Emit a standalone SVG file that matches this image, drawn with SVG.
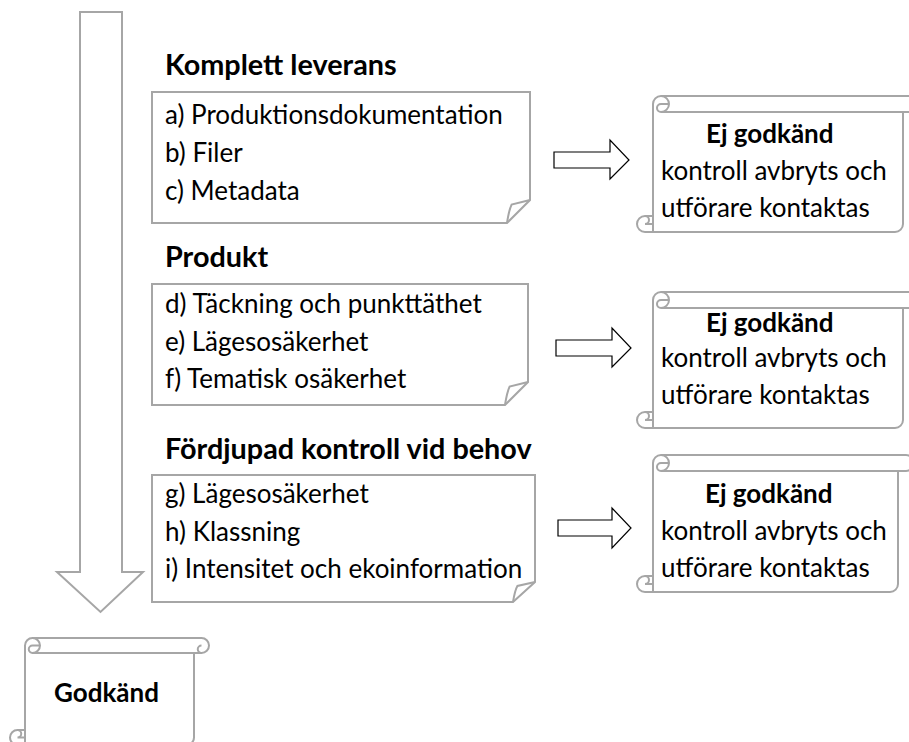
<svg xmlns="http://www.w3.org/2000/svg" width="909" height="742" viewBox="0 0 909 742">
<style>
  .shape { fill: #ffffff; stroke: #a6a6a6; stroke-width: 2; stroke-linejoin: miter; }
  .line { fill: none; stroke: #a6a6a6; stroke-width: 2; }
  .arrow { fill: #ffffff; stroke: #000000; stroke-width: 1.2; }
  .body { font-family: Lato, "Liberation Sans", sans-serif; font-size: 26px; fill: #000; }
  .head { font-family: Lato, "Liberation Sans", sans-serif; font-size: 28.8px; font-weight: bold; fill: #000; }
  .bold { font-family: Lato, "Liberation Sans", sans-serif; font-size: 26px; font-weight: bold; fill: #000; }
</style>
<rect width="909" height="742" fill="#ffffff"/>

<g id="flow-arrow">
  <path class="shape" d="M80,12 L122,12 L122,572 L143,572 L100.5,612 L57,572 L80,572 Z"/>
</g>

<g id="heading-komplett"><text class="head" x="165" y="75">Komplett leverans</text></g>
<g id="box-komplett">
  <path class="shape" d="M152,92 L530,92 L530,200 L507,223 L152,223 Z"/>
  <path class="line" d="M507,223 Q509,210 511.6,204.6 L530,200"/>
  <text class="body" x="165" y="124">a) Produktionsdokumentation</text>
  <text class="body" x="165" y="162">b) Filer</text>
  <text class="body" x="165" y="200">c) Metadata</text>
</g>

<g id="heading-produkt"><text class="head" x="165" y="267">Produkt</text></g>
<g id="box-produkt">
  <path class="shape" d="M152,284 L528,284 L528,382 L505,405 L152,405 Z"/>
  <path class="line" d="M505,405 Q507,392 509.6,386.6 L528,382"/>
  <text class="body" x="165" y="313">d) Täckning och punkttäthet</text>
  <text class="body" x="165" y="351">e) Lägesosäkerhet</text>
  <text class="body" x="165" y="388">f) Tematisk osäkerhet</text>
</g>

<g id="heading-fordjupad"><text class="head" x="165" y="459">Fördjupad kontroll vid behov</text></g>
<g id="box-fordjupad">
  <path class="shape" d="M152,475 L535,475 L535,582 L513,602 L152,602 Z"/>
  <path class="line" d="M513,602 Q515,590 517.4,586 L535,582"/>
  <text class="body" x="165" y="503">g) Lägesosäkerhet</text>
  <text class="body" x="165" y="541">h) Klassning</text>
  <text class="body" x="165" y="578">i) Intensitet och ekoinformation</text>
</g>

<g id="connectors">
  <path class="arrow" d="M554,152 L610,152 L610,140 L629,160 L610,179 L610,168 L554,168 Z"/>
  <path class="arrow" d="M556,340 L612,340 L612,328 L631,348 L612,367 L612,356 L556,356 Z"/>
  <path class="arrow" d="M558,520 L612,520 L612,508 L631,528 L612,548 L612,536 L558,536 Z"/>
</g>

<g id="scroll-1">
  <path class="shape" d="M653,216 L653,104 A8,8 0 0 1 661,96 L911,96 A8,8 0 0 1 911,112 L903,112 L903,224 A8,8 0 0 1 895,232 L645,232 A8,8 0 0 1 645,216 Z"/>
  <path class="line" d="M661,96 A8,8 0 0 1 661,112 A4,4 0 0 1 661,104 L669,104 M661,112 L903,112 M645,216 A4,4 0 0 1 645,224 L653,224 M653,216 L653,232"/>
  <text class="bold" x="706" y="143">Ej godkänd</text>
  <text class="body" x="661" y="180">kontroll avbryts och</text>
  <text class="body" x="661" y="217">utförare kontaktas</text>
</g>

<g id="scroll-2">
  <path class="shape" d="M653,412 L653,300 A8,8 0 0 1 661,292 L911,292 A8,8 0 0 1 911,308 L903,308 L903,420 A8,8 0 0 1 895,428 L645,428 A8,8 0 0 1 645,412 Z"/>
  <path class="line" d="M661,292 A8,8 0 0 1 661,308 A4,4 0 0 1 661,300 L669,300 M661,308 L903,308 M645,412 A4,4 0 0 1 645,420 L653,420 M653,412 L653,428"/>
  <text class="bold" x="706" y="332">Ej godkänd</text>
  <text class="body" x="661" y="367">kontroll avbryts och</text>
  <text class="body" x="661" y="404">utförare kontaktas</text>
</g>

<g id="scroll-3">
  <path class="shape" d="M653,576 L653,463 A8,8 0 0 1 661,455 L906,455 A8,8 0 0 1 906,471 L898,471 L898,584 A8,8 0 0 1 890,592 L645,592 A8,8 0 0 1 645,576 Z"/>
  <path class="line" d="M661,455 A8,8 0 0 1 661,471 A4,4 0 0 1 661,463 L669,463 M661,471 L898,471 M645,576 A4,4 0 0 1 645,584 L653,584 M653,576 L653,592"/>
  <text class="bold" x="705" y="503">Ej godkänd</text>
  <text class="body" x="661" y="540">kontroll avbryts och</text>
  <text class="body" x="661" y="577">utförare kontaktas</text>
</g>

<g id="scroll-godkand">
  <path class="shape" d="M25,730 L25,645.5 A7.5,7.5 0 0 1 32.5,638 L201.5,638 A7.5,7.5 0 0 1 201.5,653 L194,653 L194,737.5 A7.5,7.5 0 0 1 186.5,745 L17.5,745 A7.5,7.5 0 0 1 17.5,730 Z"/>
  <path class="line" d="M32.5,638 A7.5,7.5 0 0 1 32.5,653 A3.75,3.75 0 0 1 32.5,645.5 L40,645.5 M32.5,653 L194,653 M201.5,653 A3.75,3.75 0 0 1 201.5,645.5 M17.5,730 A3.75,3.75 0 0 1 17.5,737.5 L25,737.5 M25,730 L25,745"/>
  <text class="bold" x="106.5" y="702" text-anchor="middle">Godkänd</text>
</g>
</svg>
